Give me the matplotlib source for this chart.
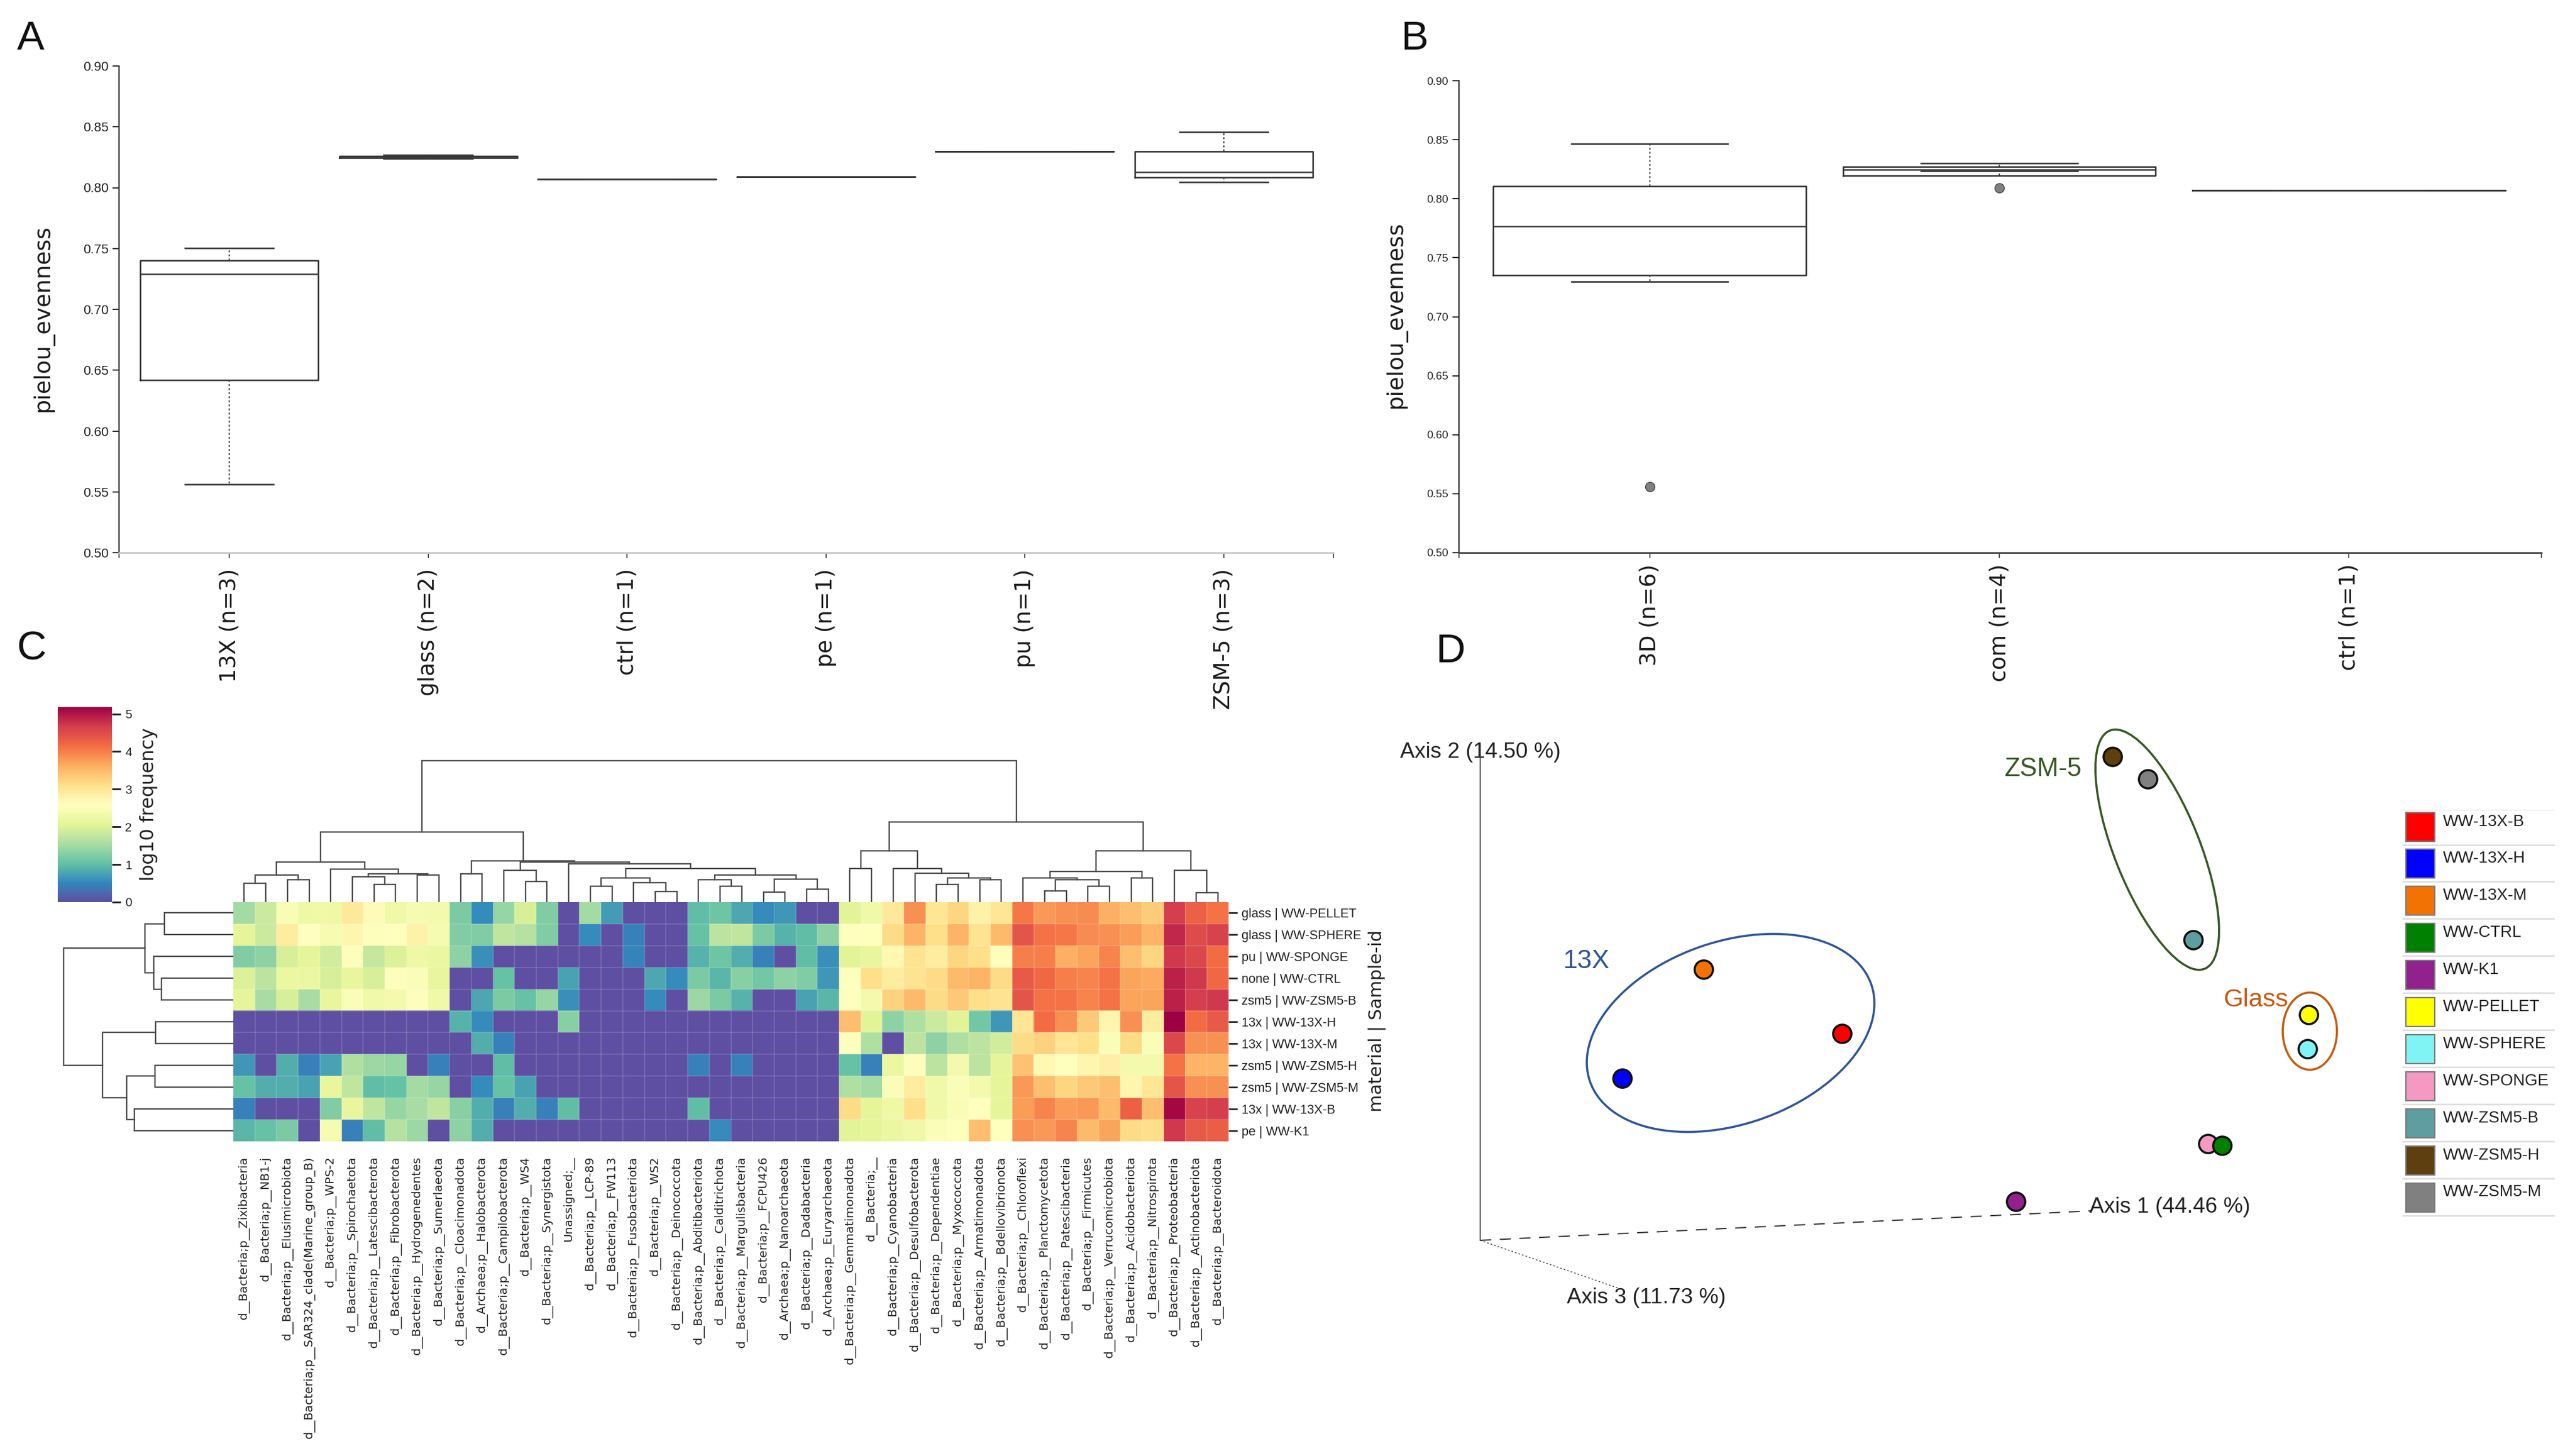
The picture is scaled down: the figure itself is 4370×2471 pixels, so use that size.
import numpy as np
import matplotlib
matplotlib.use("Agg")
import matplotlib.pyplot as plt
from matplotlib.patches import Ellipse, Rectangle
from matplotlib.colors import Normalize
from matplotlib.cm import ScalarMappable

W, H = 4370, 2471
NARROW = "Liberation Sans"

# panel A, box stats
a_labels = ["13X (n=3)", "glass (n=2)", "ctrl (n=1)", "pe (n=1)", "pu (n=1)", "ZSM-5 (n=3)"]
a_whislo = [0.556, 0.824, 0.807, 0.809, 0.830, 0.8046]
a_q1 = [0.642, 0.8245, 0.807, 0.809, 0.830, 0.8085]
a_med = [0.729, 0.825, 0.807, 0.809, 0.830, 0.8127]
a_q3 = [0.740, 0.826, 0.807, 0.809, 0.830, 0.830]
a_whishi = [0.7505, 0.827, 0.807, 0.809, 0.830, 0.8456]

# panel B
b_labels = ["3D (n=6)", "com (n=4)", "ctrl (n=1)"]
b_whislo = [0.7295, 0.8235, 0.807]
b_q1 = [0.735, 0.8195, 0.807]
b_med = [0.7769, 0.8247, 0.807]
b_q3 = [0.8108, 0.827, 0.807]
b_whishi = [0.8466, 0.830, 0.807]
b_fliers = [[0.556], [0.809], []]

y_ticks = [0.50, 0.55, 0.60, 0.65, 0.70, 0.75, 0.80, 0.85, 0.90]

# panel C, heatmap
row_labels = ["glass | WW-PELLET", "glass | WW-SPHERE", "pu | WW-SPONGE", "none | WW-CTRL",
              "zsm5 | WW-ZSM5-B", "13x | WW-13X-H", "13x | WW-13X-M", "zsm5 | WW-ZSM5-H",
              "zsm5 | WW-ZSM5-M", "13x | WW-13X-B", "pe | WW-K1"]
col_labels = ["d__Bacteria;p__Zixibacteria", "d__Bacteria;p__NB1-j", "d__Bacteria;p__Elusimicrobiota",
              "d__Bacteria;p__SAR324_clade(Marine_group_B)", "d__Bacteria;p__WPS-2",
              "d__Bacteria;p__Spirochaetota", "d__Bacteria;p__Latescibacterota",
              "d__Bacteria;p__Fibrobacterota", "d__Bacteria;p__Hydrogenedentes",
              "d__Bacteria;p__Sumerlaeota", "d__Bacteria;p__Cloacimonadota",
              "d__Archaea;p__Halobacterota", "d__Bacteria;p__Campilobacterota", "d__Bacteria;p__WS4",
              "d__Bacteria;p__Synergistota", "Unassigned;__", "d__Bacteria;p__LCP-89",
              "d__Bacteria;p__FW113", "d__Bacteria;p__Fusobacteriota", "d__Bacteria;p__WS2",
              "d__Bacteria;p__Deinococcota", "d__Bacteria;p__Abditibacteriota",
              "d__Bacteria;p__Calditrichota", "d__Bacteria;p__Margulisbacteria", "d__Bacteria;p__FCPU426",
              "d__Archaea;p__Nanoarchaeota", "d__Bacteria;p__Dadabacteria", "d__Archaea;p__Euryarchaeota",
              "d__Bacteria;p__Gemmatimonadota", "d__Bacteria;__", "d__Bacteria;p__Cyanobacteria",
              "d__Bacteria;p__Desulfobacterota", "d__Bacteria;p__Dependentiae", "d__Bacteria;p__Myxococcota",
              "d__Bacteria;p__Armatimonadota", "d__Bacteria;p__Bdellovibrionota",
              "d__Bacteria;p__Chloroflexi", "d__Bacteria;p__Planctomycetota", "d__Bacteria;p__Patescibacteria",
              "d__Bacteria;p__Firmicutes", "d__Bacteria;p__Verrucomicrobiota", "d__Bacteria;p__Acidobacteriota",
              "d__Bacteria;p__Nitrospirota", "d__Bacteria;p__Proteobacteria", "d__Bacteria;p__Actinobacteriota",
              "d__Bacteria;p__Bacteroidota"]

row_pellet = [1.5, 1.85, 2.45, 2.25, 2.25, 2.95, 2.65, 2.3, 2.4, 2.35,
              1.2, .55, 1.4, 1.95, 1.25, 0, 1.5, .7, 0, 0,
              0, 1.0, 1.1, .8, .55, .65, 0, 0,
              2.05, 2.3, 2.95, 3.85, 3.0, 3.2, 2.8, 3.0,
              4.05, 3.8, 3.85, 3.9, 3.6, 3.45, 3.3, 4.65, 4.25, 4.1]
row_sphere = [2.1, 1.85, 2.9, 2.6, 2.4, 2.75, 2.55, 2.6, 2.8, 2.4,
              1.25, 1.25, 1.75, 1.65, 1.25, 0, .55, 0, .45, 0,
              0, 1.05, 1.7, 1.75, 1.2, .9, 1.0, 1.35,
              2.6, 2.6, 3.15, 3.55, 3.1, 3.55, 3.05, 3.5,
              4.4, 4.1, 4.05, 3.9, 3.85, 3.75, 3.55, 4.85, 4.5, 4.6]
row_sponge = [1.25, 1.35, 1.95, 2.1, 1.9, 2.55, 1.8, 2.0, 2.25, 2.2,
              1.35, .6, 0, 0, 0, 0, 0, 0, .5, 0,
              0, .9, 1.1, .85, .45, 0, 1.0, .6,
              2.05, 2.15, 2.7, 3.05, 2.9, 3.2, 3.1, 2.55,
              4.0, 4.0, 3.6, 3.7, 3.95, 3.45, 3.2, 4.7, 4.55, 4.15]
row_ctrl = [2.0, 1.7, 2.2, 2.2, 1.95, 2.15, 1.95, 2.55, 2.5, 2.15,
            0, 0, 1.05, 0, 0, .75, 0, 0, 0, .8,
            .55, 1.2, .95, 1.3, 1.15, 1.35, 1.25, .65,
            2.6, 3.1, 2.9, 3.05, 3.15, 3.5, 3.55, 3.15,
            4.35, 4.2, 4.0, 3.95, 4.1, 3.7, 3.65, 4.9, 4.7, 4.2]
row_zsm5b = [2.1, 1.55, 1.95, 1.55, 2.15, 2.5, 2.3, 2.35, 2.55, 2.3,
             0, .8, 1.2, 1.05, 1.4, .6, 0, 0, 0, .55,
             0, 1.45, 1.2, .9, 0, 0, .75, .95,
             2.6, 2.35, 3.25, 3.5, 3.15, 3.35, 3.1, 3.05,
             4.4, 4.1, 4.1, 3.95, 4.1, 3.7, 3.7, 4.9, 4.65, 4.7]
row_13xh = [0, 0, 0, 0, 0, 0, 0, 0, 0, 0,
            .9, .55, 0, 0, 0, 1.3, 0, 0, 0, 0,
            0, 0, 0, 0, 0, 0, 0, 0,
            3.45, 2.05, 1.35, 1.6, 1.85, 2.05, 1.15, .65,
            3.0, 4.15, 3.85, 3.35, 2.75, 3.85, 2.9, 5.18, 4.15, 4.35]
row_13xm = [0, 0, 0, 0, 0, 0, 0, 0, 0, 0,
            0, .85, .45, 0, 0, 0, 0, 0, 0, 0,
            0, 0, 0, 0, 0, 0, 0, 0,
            2.6, 1.6, 0, 1.7, 1.35, 1.6, 1.7, 1.9,
            3.15, 3.25, 3.0, 3.1, 2.5, 3.15, 2.5, 4.55, 3.85, 3.85]
row_zsm5h = [.65, 0, .85, .45, .75, 1.6, 1.45, 1.4, 0, .45,
             0, 0, 1.0, 0, 0, 0, 0, 0, 0, 0,
             0, .45, 0, .45, 0, 0, 0, 0,
             1.05, .45, 2.2, 2.55, 1.7, 2.35, 1.7, 2.1,
             3.4, 2.7, 2.6, 2.75, 2.85, 2.35, 2.35, 4.1, 3.55, 3.55]
row_zsm5m = [1.05, .85, .85, .75, 2.15, 1.75, 1.0, 1.05, 1.5, 1.4,
             0, .55, 1.05, .75, 0, 0, 0, 0, 0, 0,
             0, 0, 0, 0, 0, 0, 0, 0,
             1.6, 1.5, 2.5, 2.9, 2.3, 2.5, 2.35, 2.1,
             3.8, 3.45, 3.2, 3.35, 3.45, 2.75, 3.0, 4.4, 3.85, 3.85]
row_13xb = [.45, 0, 0, 0, 1.25, 2.15, 1.75, 1.4, 1.55, 1.75,
            1.3, .85, .45, .85, .45, 1.0, 0, 0, 0, 0,
            0, 1.0, 0, 0, 0, 0, 0, 0,
            3.15, 2.1, 2.25, 3.1, 2.3, 2.45, 2.6, 2.1,
            3.75, 3.95, 3.75, 3.8, 3.5, 4.25, 3.45, 5.1, 4.6, 4.65]
row_k1 = [.95, 1.05, 1.2, 0, 2.4, .45, 1.0, 1.65, 1.45, 0,
          1.35, .85, 0, 0, 0, 0, 0, 0, 0, 0,
          0, 0, .55, 0, 0, 0, 0, 0,
          2.05, 2.1, 2.2, 2.3, 2.5, 2.6, 3.45, 2.6,
          3.85, 3.8, 3.95, 3.5, 3.7, 3.15, 3.1, 4.7, 4.35, 4.3]

heat_rows = [row_pellet, row_sphere, row_sponge, row_ctrl, row_zsm5b, row_13xh,
             row_13xm, row_zsm5h, row_zsm5m, row_13xb, row_k1]

# dendrograms as (height, left, right), leaves are column / row indices
col_tree = (240,
            (119,
             (68,
              (46, (32, 0, 1), (38, 2, 3)),
              (56, 4, (48, (43, 5, (30, 6, 7)), (46, 8, 9)))),
             (70,
              (48, 10, 11),
              (68,
               (54, 12, (35, 13, 14)),
               (65, 15,
                (57,
                 (41, (27, 16, 17), (33, 18, (18, 19, 20))),
                 (46, (38, 21, (27, 22, 23)), (39, (17, 24, 25), (22, 26, 27)))))))),
            (136,
             (87,
              (57, 28, 29),
              (57, 30, (49, 31, (41, (30, 32, 33), (38, 34, 35))))),
             (87,
              (52, (41, 36, (38, (19, 37, 38), (27, 39, 40))), (41, 41, 42)),
              (54, 43, (16, 44, 45)))))
row_tree = (288,
            (150, (117, 0, 1), (135, 2, (122, 3, 4))),
            (222, (132, 5, 6), (181, (133, 7, 8), (168, 9, 10))))

# panel D, positions on the picture
pcoa_names = ["WW-13X-B", "WW-13X-H", "WW-13X-M", "WW-CTRL", "WW-K1", "WW-PELLET",
              "WW-SPHERE", "WW-SPONGE", "WW-ZSM5-B", "WW-ZSM5-H", "WW-ZSM5-M"]
pcoa_colors = ["#ff0000", "#0000ff", "#f27304", "#008000", "#91218c", "#ffff00",
               "#80f3f5", "#f49ac2", "#5f9ea0", "#5e3f0f", "#808080"]
pcoa_x = [3126, 2753, 2891, 3771, 3421, 3918, 3916, 3747, 3722, 3585, 3645]
pcoa_y = [1754, 1830, 1645, 1944, 2039, 1722, 1780, 1941, 1595, 1284, 1322]
pcoa_order = [7, 3, 0, 1, 2, 4, 5, 6, 8, 9, 10]


def ax_px(fig, left, top, right, bottom):
    return fig.add_axes([left / W, 1 - bottom / H, (right - left) / W, (bottom - top) / H])


def box_panel(ax, labels, whislo, q1, med, q3, whishi, fliers, tick_size, pad, x_min, x_max, bottom_color):
    stats = []
    for i in range(len(labels)):
        stats.append({"whislo": whislo[i], "q1": q1[i], "med": med[i], "q3": q3[i],
                      "whishi": whishi[i], "fliers": fliers[i]})
    ax.bxp(stats, positions=list(range(len(labels))), widths=0.895, capwidths=0.447, manage_ticks=False,
           boxprops={"color": "#2a2a2a", "linewidth": 1.8},
           medianprops={"color": "#3a3a3a", "linewidth": 1.8},
           whiskerprops={"color": "#444444", "linewidth": 1.6, "linestyle": (0, (1.5, 1.6))},
           capprops={"color": "#333333", "linewidth": 1.9},
           flierprops={"marker": "o", "markerfacecolor": "#808080", "markeredgecolor": "#444444",
                       "markersize": 11.5, "markeredgewidth": 1})
    ax.set_xlim(x_min, x_max)
    ax.set_ylim(0.50, 0.90)
    ax.set_yticks(y_ticks)
    ax.set_yticklabels(["%.2f" % v for v in y_ticks], fontsize=tick_size, family=NARROW, color="#222222")
    ax.set_xticks(list(range(len(labels))))
    ax.set_xticklabels(labels, rotation=90, fontsize=27, color="#1a1a1a", va="top", ha="center")
    ax.set_xticks([x_min, x_max], minor=True)
    ax.tick_params(axis="x", which="both", length=6.5, width=1.2, pad=pad, color="#333333")
    ax.tick_params(axis="y", length=8, width=1.4, pad=5, color="#222222")
    ax.spines["top"].set_visible(False)
    ax.spines["right"].set_visible(False)
    ax.spines["left"].set_linewidth(1.5)
    ax.spines["left"].set_color("#222222")
    ax.spines["bottom"].set_linewidth(2)
    ax.spines["bottom"].set_color(bottom_color)
    ax.patch.set_alpha(0)


def draw_tree(ax, node, horizontal):
    # returns leaf position and height of this node
    if not isinstance(node, tuple):
        return node + 0.5, 0
    height, left, right = node
    p1, h1 = draw_tree(ax, left, horizontal)
    p2, h2 = draw_tree(ax, right, horizontal)
    pos = [p1, p1, p2, p2]
    hgt = [h1, height, height, h2]
    if horizontal:
        ax.plot(hgt, pos, color="#4a4a4a", lw=1.7, solid_joinstyle="miter")
    else:
        ax.plot(pos, hgt, color="#4a4a4a", lw=1.7, solid_joinstyle="miter")
    return (p1 + p2) / 2, height


def main():
    fig = plt.figure(figsize=(W / 100, H / 100), dpi=100, facecolor="white")

    # A
    ax_a = ax_px(fig, 202, 112, 2263, 938)
    box_panel(ax_a, a_labels, a_whislo, a_q1, a_med, a_q3, a_whishi, [[] for v in a_labels],
              16, 13, -0.554, 5.551, "#c8c8c8")

    # B
    ax_b = ax_px(fig, 2476, 137, 4313, 938)
    box_panel(ax_b, b_labels, b_whislo, b_q1, b_med, b_q3, b_whishi, b_fliers,
              13.5, 7, -0.546, 2.551, "#444444")

    # C heatmap
    norm = Normalize(vmin=0, vmax=5.18)
    cmap = plt.get_cmap("Spectral_r")
    ax_h = ax_px(fig, 396, 1531, 2085, 1937)
    ax_h.imshow(np.array(heat_rows), cmap=cmap, norm=norm, aspect="auto",
                interpolation="nearest", extent=(0, len(col_labels), len(row_labels), 0))
    ax_h.set_xticks(np.arange(len(col_labels)) + 0.5)
    ax_h.set_xticklabels(col_labels, rotation=90, fontsize=14.5, color="#222222", va="top", ha="center")
    ax_h.set_yticks(np.arange(len(row_labels)) + 0.5)
    ax_h.set_yticklabels(row_labels, fontsize=15.5, family=NARROW, color="#222222")
    ax_h.yaxis.tick_right()
    ax_h.tick_params(axis="x", length=0, pad=18)
    ax_h.tick_params(axis="y", length=11, width=2, pad=5, color="#222222")
    ax_h.set_xticks(np.arange(1, len(col_labels)), minor=True)
    ax_h.set_yticks(np.arange(1, len(row_labels)), minor=True)
    ax_h.tick_params(which="minor", length=0)
    ax_h.grid(which="minor", color="white", alpha=0.14, lw=1.5)
    for s in ax_h.spines.values():
        s.set_visible(False)

    ax_top = ax_px(fig, 396, 1281, 2085, 1531)
    ax_top.set_xlim(0, len(col_labels))
    ax_top.set_ylim(0, 250)
    draw_tree(ax_top, col_tree, False)
    ax_top.axis("off")

    ax_left = ax_px(fig, 96, 1531, 396, 1937)
    ax_left.set_xlim(300, 0)
    ax_left.set_ylim(len(row_labels), 0)
    draw_tree(ax_left, row_tree, True)
    ax_left.axis("off")

    cax = ax_px(fig, 98, 1200, 190, 1531)
    cbar = fig.colorbar(ScalarMappable(norm=norm, cmap=cmap), cax=cax)
    cbar.set_ticks([0, 1, 2, 3, 4, 5])
    cbar.ax.tick_params(length=11, width=2.2, pad=5, labelsize=15, color="#222222", labelcolor="#222222")
    for t in cbar.ax.get_yticklabels():
        t.set_family(NARROW)
    cbar.outline.set_visible(False)

    # overlay in picture pixels, for panel D and the loose texts
    canvas = fig.add_axes([0, 0, 1, 1])
    canvas.set_xlim(0, W)
    canvas.set_ylim(H, 0)
    canvas.axis("off")
    canvas.patch.set_alpha(0)

    for letter, x, y in [("A", 29, 84), ("B", 2377, 84), ("C", 29, 1120), ("D", 2436, 1124)]:
        canvas.text(x, y, letter, fontsize=50, family=NARROW, color="#111111", ha="left", va="baseline")

    canvas.text(73, 540, "pielou_evenness", rotation=90, fontsize=27.5, color="#1a1a1a", ha="center", va="center")
    canvas.text(2369, 534, "pielou_evenness", rotation=90, fontsize=27.5, color="#1a1a1a", ha="center", va="center")
    canvas.text(252, 1365, "log10 frequency", rotation=90, fontsize=23, color="#222222", ha="center", va="center")
    canvas.text(2337, 1733, "material | Sample-id", rotation=90, fontsize=21.8, color="#222222", ha="center", va="center")

    # D axes
    canvas.plot([2512, 2512], [1261, 2105], color="#333333", lw=1.2)
    canvas.plot([2512, 3548], [2105, 2055], color="#333333", lw=1.5, linestyle=(0, (9, 7)))
    canvas.plot([2512, 2749], [2105, 2187], color="#333333", lw=1.0, linestyle=(0, (2, 2.5)))
    canvas.text(2376, 1276, "Axis 2 (14.50 %)", fontsize=26.7, family=NARROW, color="#222222", va="center", ha="left")
    canvas.text(3546, 2048, "Axis 1 (44.46 %)", fontsize=26.7, family=NARROW, color="#222222", va="center", ha="left")
    canvas.text(2659, 2203, "Axis 3 (11.73 %)", fontsize=26.7, family=NARROW, color="#222222", va="center", ha="left")

    canvas.add_patch(Ellipse((2937, 1753), 505, 310, angle=-19, fill=False, ec="#2f5597", lw=2.6))
    canvas.add_patch(Ellipse((3661, 1442), 435, 145, angle=68.3, fill=False, ec="#385723", lw=2.6))
    canvas.add_patch(Ellipse((3920, 1750), 92, 131, angle=0, fill=False, ec="#c55a11", lw=2.6))
    canvas.text(2653, 1643, "13X", fontsize=32, family=NARROW, color="#2f5597", ha="left", va="baseline")
    canvas.text(3402, 1317, "ZSM-5", fontsize=31.5, family=NARROW, color="#385723", ha="left", va="baseline")
    canvas.text(3774, 1708, "Glass", fontsize=31, family=NARROW, color="#c55a11", ha="left", va="baseline")

    for i in pcoa_order:
        canvas.scatter(pcoa_x[i], pcoa_y[i], s=500, color=pcoa_colors[i], edgecolors="#111111",
                       linewidths=2.6, zorder=4)

    # legend
    for i in range(len(pcoa_names)):
        top = 1378.5 + 62.9 * i
        canvas.add_patch(Rectangle((4083, top), 49, 49, fc=pcoa_colors[i], ec="#7a7a7a", lw=1.6))
        canvas.plot([4078, 4334], [top + 55, top + 55], color="#dcdcdc", lw=1.8)
        canvas.text(4146, top + 16, pcoa_names[i], fontsize=20, family=NARROW, color="#222222", va="center", ha="left")
    canvas.plot([4078, 4334], [1375, 1375], color="#efefef", lw=1.5)

    fig.savefig("out.png", dpi=100)


if __name__ == "__main__":
    main()
